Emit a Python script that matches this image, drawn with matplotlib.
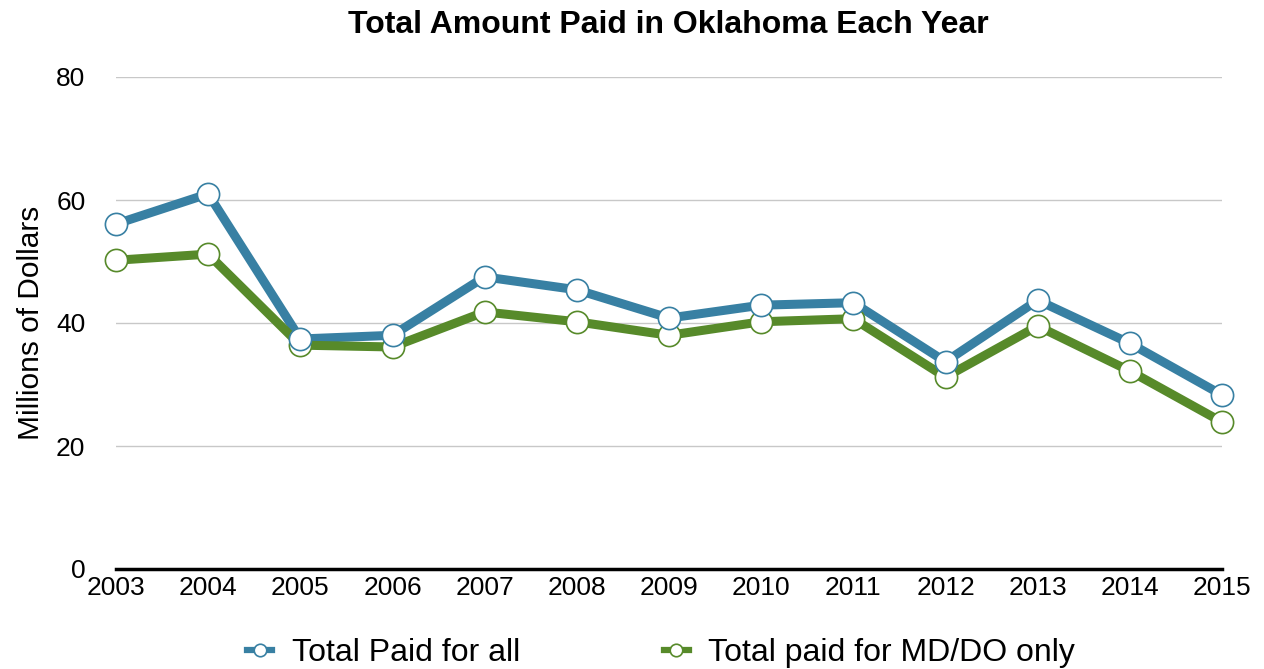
import matplotlib
matplotlib.use("Agg")
import matplotlib.pyplot as plt
from matplotlib.lines import Line2D

years = [2003, 2004, 2005, 2006, 2007, 2008, 2009, 2010, 2011, 2012, 2013, 2014, 2015]
total_all = [56.1, 61.0, 37.4, 38.0, 47.5, 45.4, 40.8, 42.9, 43.3, 33.7, 43.7, 36.7, 28.3]
total_mddo = [50.2, 51.2, 36.4, 36.1, 41.8, 40.2, 38.0, 40.2, 40.7, 31.2, 39.5, 32.2, 23.9]
yticks = [0, 20, 40, 60, 80]

blue = "#3880A3"
green = "#578A2A"

plt.rcParams['font.family'] = ['Liberation Sans', 'DejaVu Sans']

fig = plt.figure(figsize=(12.64, 6.69), dpi=100)
ax = fig.add_axes([116/1264, 1-569/669, (1222-116)/1264, (569-77)/669])

for vals, col in [(total_all, blue), (total_mddo, green)]:
    ax.plot(years, vals, color=col, lw=6.5, solid_joinstyle='round', zorder=3, clip_on=False)
for vals, col in [(total_mddo, green), (total_all, blue)]:
    ax.plot(years, vals, ls='none', marker='o', ms=16, mfc='white', mec=col, mew=1.2, zorder=4, clip_on=False)

ax.set_xlim(years[0], years[-1])
ax.set_ylim(0, 80)
ax.set_yticks(yticks)
ax.set_xticks(years)
ax.set_xticklabels([str(y) for y in years])
ax.tick_params(axis='both', length=0, labelsize=19)
ax.tick_params(axis='x', pad=5)
ax.tick_params(axis='y', pad=22)
ax.grid(axis='y', color='#C8C8C8', lw=1)
ax.set_axisbelow(True)
for s in ['left', 'right', 'top']:
    ax.spines[s].set_visible(False)
ax.spines['bottom'].set_color('black')
ax.spines['bottom'].set_linewidth(2.5)
ax.spines['bottom'].set_zorder(2)

ax.set_ylabel("Millions of Dollars", fontsize=21.5, labelpad=8)
fig.text(0.529, 1-25/669, "Total Amount Paid in Oklahoma Each Year", ha='center', va='center',
         fontsize=23, fontweight='bold')

handles = [Line2D([0], [0], color=blue, lw=4.5, marker='o', ms=9, mfc='white', mec=blue, mew=1.2),
           Line2D([0], [0], color=green, lw=4.5, marker='o', ms=9, mfc='white', mec=green, mew=1.2)]
fig.legend(handles, ["Total Paid for all", "Total paid for MD/DO only"], loc='center',
           bbox_to_anchor=(0.523, 1-653/669), ncol=2, frameon=False, fontsize=23,
           handlelength=0.8, columnspacing=4.5, handletextpad=0.6)

fig.savefig("out.png", dpi=100)
